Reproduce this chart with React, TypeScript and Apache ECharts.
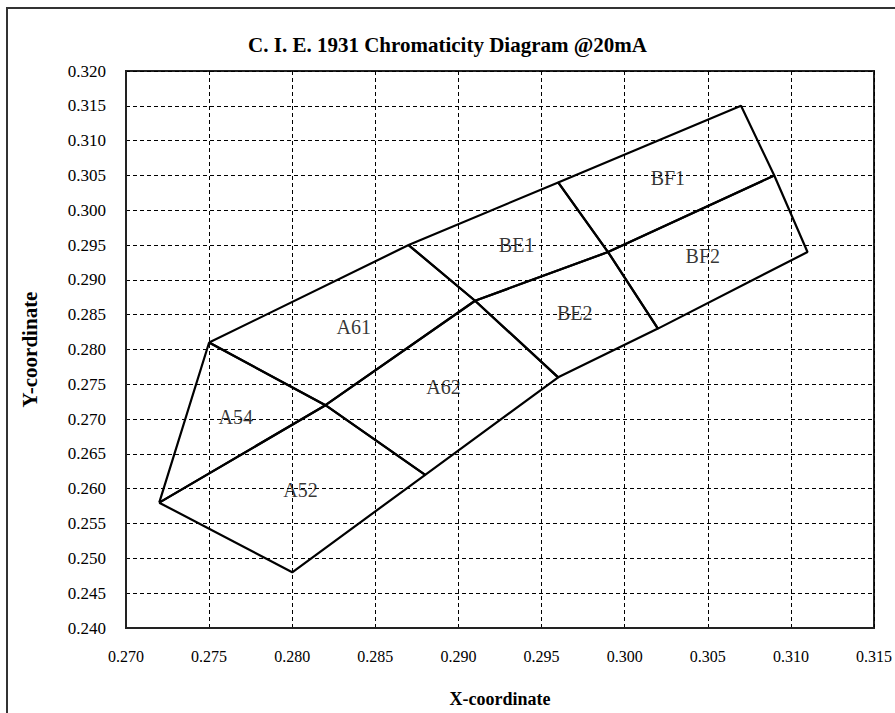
import React, { useEffect, useRef } from "react";
import * as echarts from "echarts";

const xTicks = { min: 0.27, max: 0.315, interval: 0.005 };
const yTicks = { min: 0.24, max: 0.32, interval: 0.005 };

const binNames = ["A54", "A52", "A61", "A62", "BE1", "BE2", "BF1", "BF2"];

const binA54: number[][] = [[0.272, 0.258], [0.275, 0.281], [0.282, 0.272]];
const binA52: number[][] = [[0.272, 0.258], [0.282, 0.272], [0.288, 0.262], [0.28, 0.248]];
const binA61: number[][] = [[0.275, 0.281], [0.287, 0.295], [0.291, 0.287], [0.282, 0.272]];
const binA62: number[][] = [[0.282, 0.272], [0.291, 0.287], [0.296, 0.276], [0.288, 0.262]];
const binBE1: number[][] = [[0.287, 0.295], [0.296, 0.304], [0.299, 0.294], [0.291, 0.287]];
const binBE2: number[][] = [[0.291, 0.287], [0.299, 0.294], [0.302, 0.283], [0.296, 0.276]];
const binBF1: number[][] = [[0.296, 0.304], [0.307, 0.315], [0.309, 0.305], [0.299, 0.294]];
const binBF2: number[][] = [[0.299, 0.294], [0.309, 0.305], [0.311, 0.294], [0.302, 0.283]];

const bins = [binA54, binA52, binA61, binA62, binBE1, binBE2, binBF1, binBF2];

const labelX = [0.2766, 0.2805, 0.2837, 0.2891, 0.2935, 0.297, 0.3026, 0.3047];
const labelY = [0.2703, 0.2598, 0.2833, 0.2746, 0.295, 0.2853, 0.3046, 0.2934];

const serif = "'Liberation Serif', 'DejaVu Serif', serif";

export default function App() {
  const ref = useRef<HTMLDivElement>(null);
  useEffect(() => {
    if (!ref.current) return;
    const chart = echarts.init(ref.current, undefined, { renderer: "svg" });
    const lineSeries = bins.map((pts, i) => ({
      type: "line",
      name: binNames[i],
      data: [...pts, pts[0]],
      symbol: "none",
      lineStyle: { color: "#000", width: 2.2 },
      z: 3,
    }));
    const option: any = {
      animation: false,
      backgroundColor: "#fff",
      title: {
        text: "C. I. E. 1931 Chromaticity Diagram @20mA",
        left: "center",
        top: 29,
        textStyle: { fontFamily: serif, fontSize: 21, fontWeight: "bold", color: "#000" },
      },
      graphic: [
        {
          type: "rect",
          shape: { x: 7, y: 8, width: 1000, height: 1000 },
          style: { fill: "none", stroke: "#333", lineWidth: 2 },
          silent: true,
        },
      ],
      grid: {
        left: 126,
        right: 20,
        top: 71,
        bottom: 80,
        show: true,
        borderColor: "#222",
        borderWidth: 2,
        backgroundColor: "transparent",
      },
      xAxis: {
        type: "value",
        min: xTicks.min,
        max: xTicks.max,
        interval: xTicks.interval,
        name: "X-coordinate",
        nameLocation: "middle",
        nameGap: 62,
        nameTextStyle: { fontFamily: serif, fontSize: 18, fontWeight: "bold", color: "#000" },
        axisLine: { show: true, lineStyle: { color: "#222", width: 2 } },
        axisTick: { show: false },
        axisLabel: {
          fontFamily: serif,
          fontSize: 16,
          color: "#000",
          margin: 20,
          formatter: (v: number) => v.toFixed(3),
        },
        splitLine: { show: true, lineStyle: { color: "#000", width: 1, type: [4, 3] } },
      },
      yAxis: {
        type: "value",
        min: yTicks.min,
        max: yTicks.max,
        interval: yTicks.interval,
        name: "Y-coordinate",
        nameLocation: "middle",
        nameGap: 86,
        nameTextStyle: { fontFamily: serif, fontSize: 21, fontWeight: "bold", color: "#000" },
        axisLine: { show: true, lineStyle: { color: "#222", width: 2 } },
        axisTick: { show: false },
        axisLabel: {
          fontFamily: serif,
          fontSize: 17,
          color: "#000",
          margin: 20,
          formatter: (v: number) => v.toFixed(3),
        },
        splitLine: { show: true, lineStyle: { color: "#000", width: 1, type: [4, 3] } },
      },
      series: [
        ...lineSeries,
        {
          type: "scatter",
          symbolSize: 0,
          z: 4,
          data: binNames.map((n, i) => ({ value: [labelX[i], labelY[i]], name: n })),
          label: {
            show: true,
            position: "inside",
            formatter: (p: any) => p.name,
            fontFamily: serif,
            fontSize: 20,
            color: "#000",
          },
        },
      ],
    };
    chart.setOption(option);
    return () => chart.dispose();
  }, []);
  return (
    <div
      ref={ref}
      style={{ position: "fixed", left: 0, top: 0, width: 895, height: 713, background: "#fff" }}
    />
  );
}
